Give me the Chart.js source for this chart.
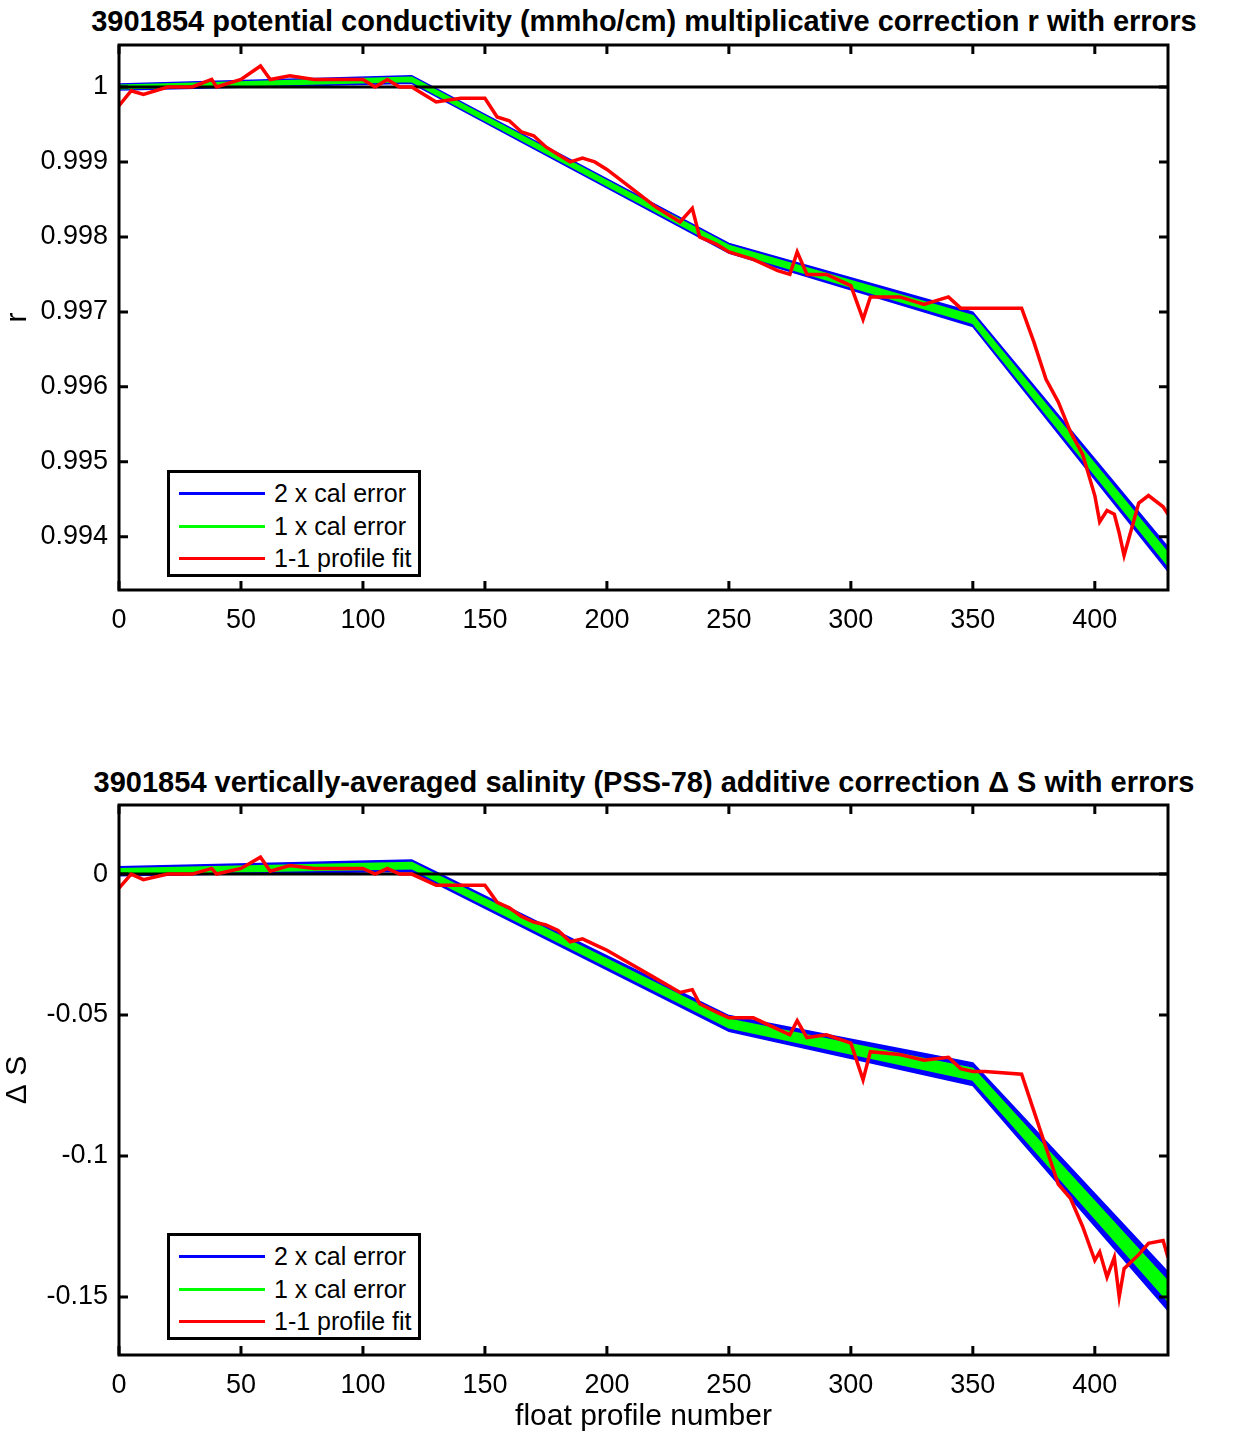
<!DOCTYPE html>
<html>
<head>
<meta charset="utf-8">
<script src="https://cdn.jsdelivr.net/npm/chart.js@4.4.1/dist/chart.umd.min.js"></script>
<style>
  body { margin: 0; background: #fff; width: 1247px; height: 1435px; position: relative; overflow: hidden;
         font-family: "Liberation Sans", Arial, sans-serif; }
  canvas { position: absolute; left: 0; }
  .title { position: absolute; left: 0; width: 1288px; text-align: center; font-weight: bold; font-size: 29px; white-space: nowrap; }
  .legend { position: absolute; left: 167px; width: 254px; height: 107px; border: 3px solid #000; background: #fff;
            box-sizing: border-box; font-size: 25px; }
  .legend div { height: 32.5px; line-height: 32.5px; position: relative; padding-left: 104px; }
  .legend span { position: absolute; left: 9px; top: 15px; width: 86px; height: 3px; }
</style>
</head>
<body>
<div class="title" style="top:5px">3901854 potential conductivity (mmho/cm) multiplicative correction r with errors</div>
<div class="title" style="top:766px">3901854 vertically-averaged salinity (PSS-78) additive correction &Delta; S with errors</div>
<canvas id="top" width="1247" height="650" style="top:0"></canvas>
<canvas id="bot" width="1247" height="720" style="top:715px"></canvas>
<div class="legend" style="top:470px">
  <div style="margin-top:4px"><span style="background:#0000ff"></span>2 x cal error</div>
  <div><span style="background:#00ff00"></span>1 x cal error</div>
  <div><span style="background:#ff0000"></span>1-1 profile fit</div>
</div>
<div class="legend" style="top:1233px">
  <div style="margin-top:4px"><span style="background:#0000ff"></span>2 x cal error</div>
  <div><span style="background:#00ff00"></span>1 x cal error</div>
  <div><span style="background:#ff0000"></span>1-1 profile fit</div>
</div>
<script>
// x ticks shared by both panels
const xTicks = [0, 50, 100, 150, 200, 250, 300, 350, 400];

// fit knots (profile number) and fitted values with 1x error half-widths
const fitX = [0, 120, 250, 350, 430];
const rFit = [1.00000, 1.00010, 0.99785, 0.99690, 0.99370];
const rErr = [0.00002, 0.000025, 0.000032, 0.000048, 0.00008];
const dsFit = [0.001, 0.003, -0.053, -0.071, -0.148];
const dsErr = [0.0008, 0.001, 0.0014, 0.002, 0.0034];

// 1-1 profile fit
const profX = [0, 5, 10, 20, 30, 38, 40, 50, 58, 62, 70, 80, 90, 100, 105, 110, 115, 120, 125, 130, 140, 150,
  155, 160, 165, 170, 175, 180, 185, 190, 195, 200, 210, 220, 230, 235, 238, 245, 250, 260, 270, 275, 278, 282,
  290, 300, 305, 308, 320, 330, 340, 345, 350, 355, 370, 375, 380, 385, 390, 395, 400, 402, 405, 408, 410, 412,
  418, 422, 428, 430];
const rProf = [0.99975, 0.99995, 0.9999, 1.0, 1.0, 1.0001, 1.0, 1.0001, 1.00028, 1.0001, 1.00015, 1.0001, 1.0001,
  1.0001, 1.0, 1.0001, 1.0, 1.0, 0.9999, 0.9998, 0.99985, 0.99985, 0.9996, 0.99955, 0.9994, 0.99935, 0.9992,
  0.9991, 0.9990, 0.99905, 0.9990, 0.9989, 0.99865, 0.9984, 0.9982, 0.99838, 0.9980, 0.9979, 0.9978, 0.9977,
  0.99755, 0.9975, 0.9978, 0.9975, 0.9975, 0.99735, 0.9969, 0.9972, 0.9972, 0.9971, 0.9972, 0.99705, 0.99705,
  0.99705, 0.99705, 0.9966, 0.9961, 0.9958, 0.9954, 0.9951, 0.99455, 0.9942, 0.99435, 0.9943, 0.99405, 0.99375,
  0.99445, 0.99455, 0.9944, 0.9943];
const dsProf = [-0.005, 0.0, -0.002, 0.0, 0.0, 0.002, 0.0, 0.002, 0.006, 0.001, 0.003, 0.002, 0.002, 0.002, 0.0,
  0.002, 0.0, 0.0, -0.002, -0.004, -0.004, -0.004, -0.01, -0.012, -0.015, -0.017, -0.018, -0.02, -0.024, -0.023,
  -0.025, -0.027, -0.032, -0.037, -0.042, -0.041, -0.046, -0.049, -0.051, -0.051, -0.055, -0.057, -0.052, -0.058,
  -0.057, -0.06, -0.073, -0.063, -0.064, -0.066, -0.065, -0.069, -0.07, -0.07, -0.071, -0.084, -0.097, -0.11,
  -0.115, -0.125, -0.137, -0.134, -0.143, -0.136, -0.15, -0.14, -0.135, -0.131, -0.13, -0.136];

const rTicks = [0.994, 0.995, 0.996, 0.997, 0.998, 0.999, 1];
const dsTicks = [-0.15, -0.1, -0.05, 0];

const pts = (xs, ys) => xs.map((x, i) => ({ x, y: ys[i] }));
const band = (ys, es, k) => fitX.map((x, i) => ({ x, y: ys[i] + k * es[i] }));

// MATLAB-style box with inward ticks on all four sides
const boxPlugin = {
  id: 'box',
  afterDraw(chart) {
    const { ctx, chartArea: a, scales } = chart;
    ctx.save();
    ctx.strokeStyle = '#000';
    ctx.lineWidth = 3;
    ctx.strokeRect(a.left, a.top, a.right - a.left, a.bottom - a.top);
    const L = 9;
    ctx.beginPath();
    scales.x.ticks.forEach(t => {
      const px = scales.x.getPixelForValue(t.value);
      ctx.moveTo(px, a.bottom); ctx.lineTo(px, a.bottom - L);
      ctx.moveTo(px, a.top); ctx.lineTo(px, a.top + L);
    });
    scales.y.ticks.forEach(t => {
      const py = scales.y.getPixelForValue(t.value);
      ctx.moveTo(a.left, py); ctx.lineTo(a.left + L, py);
      ctx.moveTo(a.right, py); ctx.lineTo(a.right - L, py);
    });
    ctx.stroke();
    ctx.restore();
  }
};

function makeChart(id, fit, err, prof, yMin, yMax, yTicks, yLabel, ref, padTop, xH, xTitle, fmt) {
  new Chart(document.getElementById(id), {
    type: 'line',
    data: {
      // first dataset is drawn on top
      datasets: [
        { data: pts(profX, prof), borderColor: '#ff0000', borderWidth: 3.5, pointRadius: 0 },
        { data: pts([0, 430], [ref, ref]), borderColor: '#000', borderWidth: 3, pointRadius: 0 },
        { data: band(fit, err, 1), borderColor: '#00ff00', borderWidth: 2, backgroundColor: '#00ff00', fill: '+1', pointRadius: 0 },
        { data: band(fit, err, -1), borderColor: '#00ff00', borderWidth: 2, fill: false, pointRadius: 0 },
        { data: band(fit, err, 2), borderColor: '#0000ff', borderWidth: 1.5, backgroundColor: '#0000ff', fill: '+1', pointRadius: 0 },
        { data: band(fit, err, -2), borderColor: '#0000ff', borderWidth: 1.5, fill: false, pointRadius: 0 }
      ]
    },
    options: {
      responsive: false, animation: false,
      layout: { padding: { top: padTop, right: 79, left: 0, bottom: 0 } },
      plugins: { legend: { display: false }, tooltip: { enabled: false } },
      scales: {
        x: {
          type: 'linear', min: 0, max: 430,
          afterBuildTicks: s => { s.ticks = xTicks.map(v => ({ value: v })); },
          afterFit: s => { s.height = xH; },
          grid: { display: false }, border: { display: false },
          ticks: { color: '#000', font: { size: 27, family: 'Liberation Sans' }, padding: 6 },
          title: { display: !!xTitle, text: xTitle, color: '#000', font: { size: 30, family: 'Liberation Sans' }, padding: 0 }
        },
        y: {
          type: 'linear', min: yMin, max: yMax,
          afterBuildTicks: s => { s.ticks = yTicks.map(v => ({ value: v })); },
          afterFit: s => { s.width = 119; },
          grid: { display: false }, border: { display: false },
          ticks: { color: '#000', font: { size: 27, family: 'Liberation Sans' }, padding: 3, callback: fmt },
          title: { display: true, text: yLabel, color: '#000', font: { size: 30, family: 'Liberation Sans' }, padding: 0 }
        }
      }
    },
    plugins: [boxPlugin]
  });
}

makeChart('top', rFit, rErr, rProf, 0.99329, 1.00056, rTicks, 'r', 1, 45, 60, '', v => String(+v.toFixed(3)));
makeChart('bot', dsFit, dsErr, dsProf, -0.1706, 0.0245, dsTicks, '\u0394 S', 0, 90, 80, 'float profile number', v => String(+v.toFixed(2)));
</script>
</body>
</html>
